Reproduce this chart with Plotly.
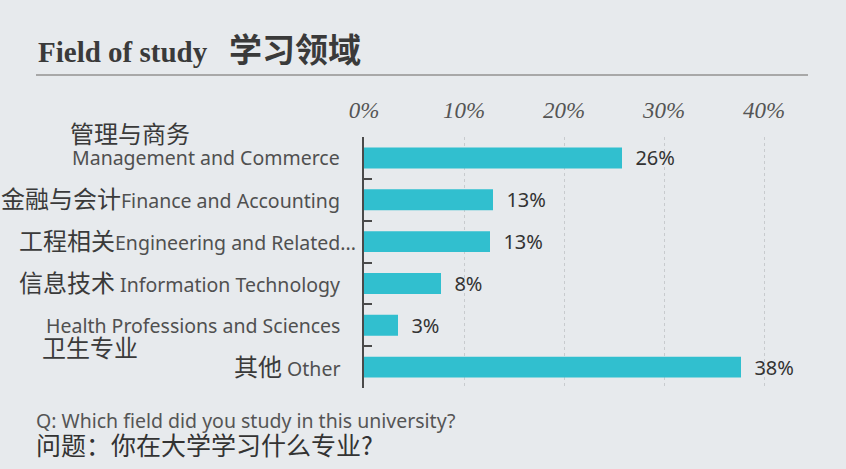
import plotly.graph_objects as go

cats = ["mgmt", "fin", "eng", "it", "health", "other"]
labels_cn = ["管理与商务", "金融与会计", "工程相关", "信息技术", "卫生专业", "其他"]
labels_en = ["Management and Commerce", "Finance and Accounting", "Engineering and Related...",
             "Information Technology", "Health Professions and Sciences", "Other"]
values = [25.8, 12.9, 12.6, 7.7, 3.4, 37.7]
value_text = ["26%", "13%", "13%", "8%", "3%", "38%"]
x_ticks = [0, 10, 20, 30, 40]
x_ticktext = ["0%", "10%", "20%", "30%", "40%"]

BG = "#e7eaed"
BAR = "#31bfcf"
EN_INK = "#505050"
CN = "Noto Sans CJK SC"
EN = "Noto Sans, Noto Sans CJK SC"

fig = go.Figure()
fig.add_trace(go.Bar(
    y=cats, x=values, orientation="h",
    marker=dict(color=BAR, line=dict(width=0)),
    width=0.5,
    text=value_text, texttemplate="  %{text}", textposition="outside",
    cliponaxis=False, constraintext="none",
    textfont=dict(family="Noto Sans", size=20, color="#333333"),
    hoverinfo="skip",
))

cn_span = '<span style="font-family:Noto Sans CJK SC;font-size:24px;color:#3a3a3a">%s</span>'
ann = []
for i, c in enumerate(cats):
    cn, en = labels_cn[i], labels_en[i]
    if c == "mgmt":
        ann.append(dict(x=0, y=c, text=en, xanchor="right", xshift=-22))
        ann.append(dict(x=0, y=c, text=cn_span % cn, xanchor="left", xshift=-296, yshift=25))
    elif c == "health":
        ann.append(dict(x=0, y=c, text=en, xanchor="right", xshift=-22))
        ann.append(dict(x=0, y=c, text=cn_span % cn, xanchor="left", xshift=-324, yshift=-21))
    elif c == "eng":
        ann.append(dict(x=0, y=c, text=cn_span % cn + en, xanchor="right", xshift=-6, yshift=2))
    elif c in ("it", "other"):
        ann.append(dict(x=0, y=c, text=cn_span % cn + " " + en, xanchor="right", xshift=-22, yshift=2))
    else:
        ann.append(dict(x=0, y=c, text=cn_span % cn + en, xanchor="right", xshift=-22, yshift=2))
for a in ann:
    a.update(xref="x", yref="y", yanchor="middle", showarrow=False,
             font=dict(family=EN, size=19.5, color=EN_INK))

# title, rule and question text
ann.append(dict(xref="paper", yref="paper", x=-328 / 440, y=1 + 89 / 251, xanchor="left", yanchor="middle",
                text='<b>Field of study</b>   <b><span style="font-family:Noto Sans CJK SC;font-size:33px">学习领域</span></b>',
                font=dict(family="Liberation Serif, DejaVu Serif", size=29, color="#3a3a3a"),
                showarrow=False))
ann.append(dict(xref="paper", yref="paper", x=-330 / 440, y=-33 / 251, xanchor="left", yanchor="middle",
                text="Q: Which field did you study in this university?",
                font=dict(family="Noto Sans", size=19.5, color="#555555"), showarrow=False))
ann.append(dict(xref="paper", yref="paper", x=-330 / 440, y=-56 / 251, xanchor="left", yanchor="middle",
                text="问题：你在大学学习什么专业?",
                font=dict(family=CN, size=25, color="#333333"), showarrow=False))

fig.update_layout(
    width=846, height=469,
    margin=dict(l=364, r=42, t=137, b=81),
    paper_bgcolor=BG, plot_bgcolor=BG,
    showlegend=False,
    annotations=ann,
    shapes=[dict(type="line", xref="paper", yref="paper",
                 x0=-328 / 440, x1=444 / 440, y0=1 + 62 / 251, y1=1 + 62 / 251,
                 line=dict(color="#a8a8a8", width=2))],
    xaxis=dict(
        side="top", range=[0, 44], tickvals=x_ticks, ticktext=x_ticktext,
        tickfont=dict(family="Liberation Serif, DejaVu Serif", size=23, color="#555555", style="italic"),
        ticklabelstandoff=13,
        showgrid=True, gridcolor="#c8cbce", griddash="dot", gridwidth=1,
        zeroline=False, showline=False, ticks="",
    ),
    yaxis=dict(
        type="category", categoryorder="array", categoryarray=cats,
        range=[5.5, -0.5], showticklabels=False,
        showline=True, linecolor="#4a4a4a", linewidth=2,
        ticks="inside", tickson="boundaries", ticklen=8, tickwidth=2, tickcolor="#4a4a4a",
        showgrid=False, zeroline=False,
    ),
)

fig.write_html("out.html", config={"displayModeBar": False},
               post_script="document.body.style.margin='0';")
